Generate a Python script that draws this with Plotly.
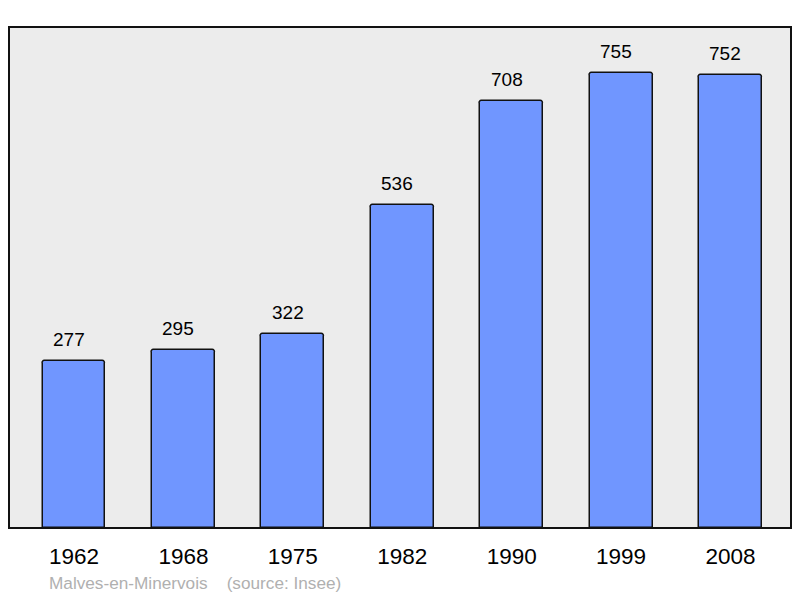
import plotly.graph_objects as go

years = ["1962", "1968", "1975", "1982", "1990", "1999", "2008"]
population = [277, 295, 322, 536, 708, 755, 752]
source_text = "Malves-en-Minervois\u00a0\u00a0\u00a0\u00a0(source: Insee)"

xs = list(range(len(years)))

fig = go.Figure()
fig.add_trace(go.Bar(
    x=xs, y=population, width=0.575,
    marker=dict(color="#7096ff", line=dict(color="#111111", width=1.5), cornerradius=3),
    hoverinfo="skip",
))

for x, v in zip(xs, population):
    fig.add_annotation(x=x, y=v, text=str(v), showarrow=False, yanchor="bottom",
                       yshift=9, xshift=-5,
                       font=dict(size=19, color="#000000", family="Liberation Sans"))

fig.add_annotation(xref="paper", yref="paper", x=0.048, y=-0.11, xanchor="left", yanchor="middle",
                   text=source_text, showarrow=False,
                   font=dict(size=17.2, color="#b0b0b0", family="Liberation Sans"))

fig.add_shape(type="rect", xref="paper", yref="paper", x0=0, x1=1, y0=0, y1=1,
              line=dict(color="#111111", width=2), layer="above")

fig.update_layout(
    width=792, height=590,
    margin=dict(l=1, r=9, t=19, b=70),
    paper_bgcolor="#ffffff", plot_bgcolor="#ececec",
    showlegend=False,
    bargap=0,
    xaxis=dict(range=[-0.594, 6.553], tickvals=xs, ticktext=years, showgrid=False,
               zeroline=False, ticks="", ticklabelstandoff=12,
               tickfont=dict(size=22.5, color="#000000", family="Liberation Sans")),
    yaxis=dict(range=[0, 831], showgrid=False, zeroline=False, showticklabels=False, ticks=""),
)

fig.write_html("out.html")
